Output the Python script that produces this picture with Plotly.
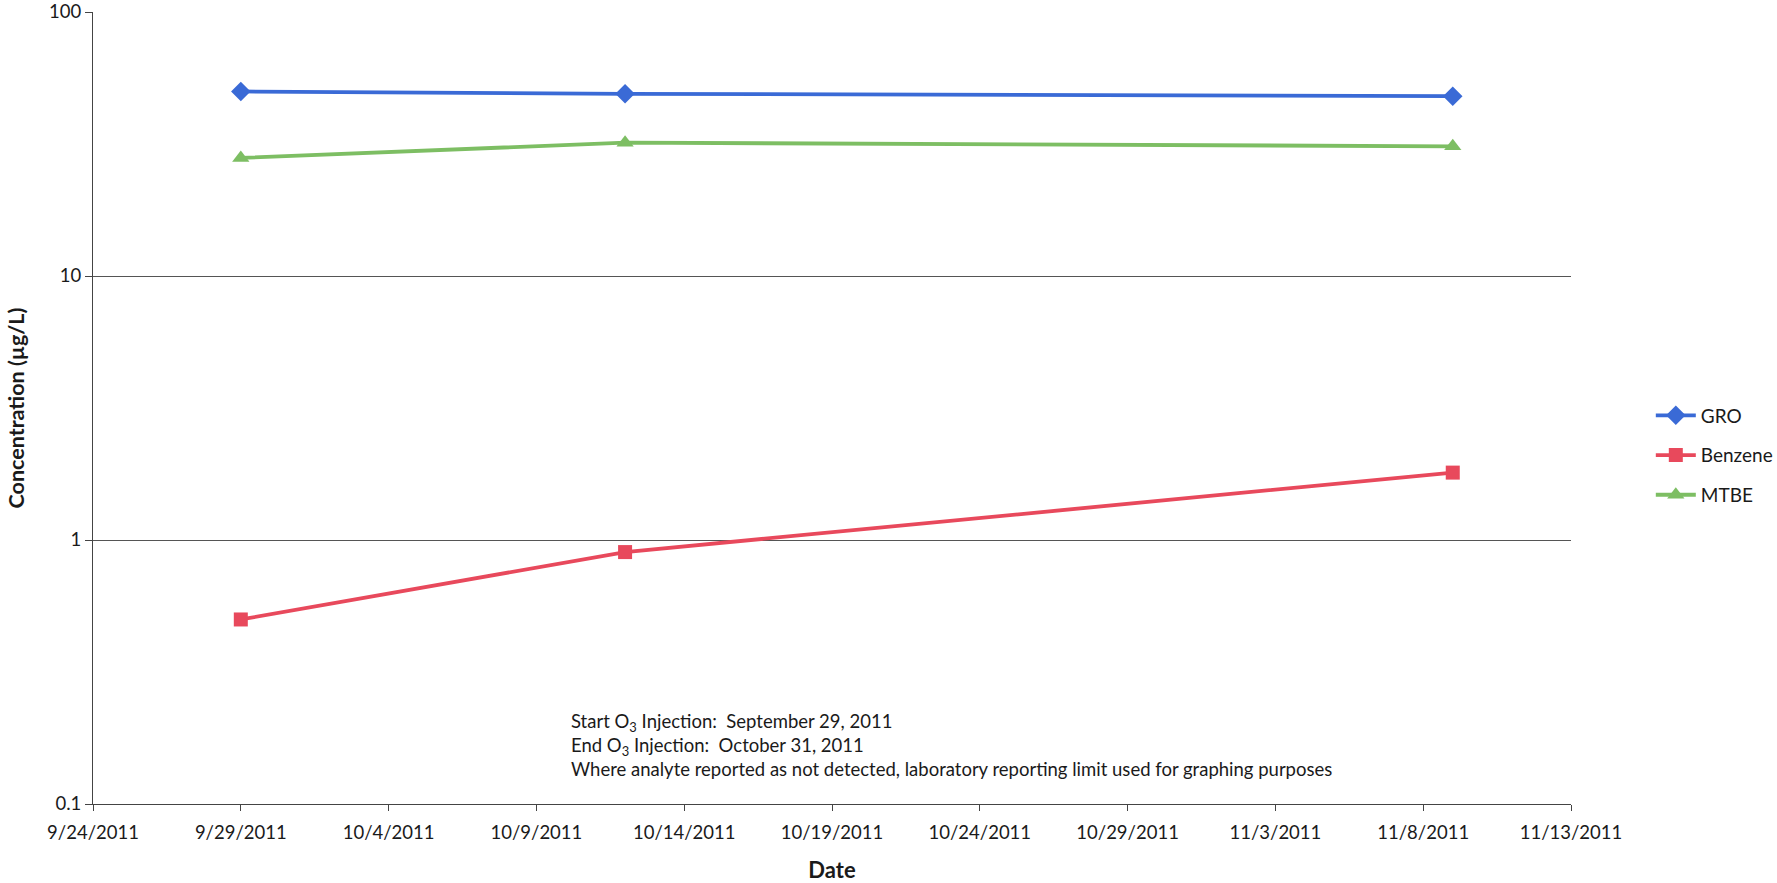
import plotly.graph_objects as go

# Sampling dates and measured concentrations (µg/L)
dates = ["2011-09-29", "2011-10-12", "2011-11-09"]
gro = [50, 49, 48]
benzene = [0.5, 0.9, 1.8]
mtbe = [28, 32, 31]

y_ticks = [0.1, 1, 10, 100]
y_tick_labels = ["0.1", "1", "10", "100"]

FONT = "Lato, 'Open Sans', sans-serif"
TEXT = "#1a1a1a"

fig = go.Figure()

series = [
    ("GRO", gro, "#3A6AD6", "diamond", 15),
    ("Benzene", benzene, "#E8495C", "square", 14),
    ("MTBE", mtbe, "#7DBE63", "triangle-up", 15),
]
for name, vals, color, symbol, size in series:
    fig.add_trace(go.Scatter(
        x=dates, y=vals, name=name, legendgroup=name, mode="lines+markers",
        line=dict(color=color, width=3.8),
        marker=dict(symbol=symbol, size=size, color=color,
                    line=dict(width=0)),
    ))

fig.add_annotation(
    xref="paper", yref="paper", x=0.322, y=0.074,
    xanchor="left", yanchor="middle", align="left", showarrow=False,
    text=("Start O<sub>3</sub> Injection:  September 29, 2011<br>"
          "End O<sub>3</sub> Injection:  October 31, 2011<br>"
          "Where analyte reported as not detected, laboratory reporting limit used for graphing purposes"),
    font=dict(family=FONT, size=18.5, color=TEXT),
)

fig.update_layout(
    width=1777, height=883,
    margin=dict(l=93, r=206, t=12, b=79, autoexpand=False),
    paper_bgcolor="white", plot_bgcolor="white",
    font=dict(family=FONT, size=18, color=TEXT),
    showlegend=True,
    legend=dict(
        x=1.054, y=0.44, xanchor="left", yanchor="middle",
        font=dict(family=FONT, size=19, color=TEXT),
        tracegroupgap=12, itemwidth=40,
        bgcolor="rgba(0,0,0,0)",
    ),
    xaxis=dict(
        type="date",
        range=["2011-09-24", "2011-11-13"],
        tick0="2011-09-24", dtick=5 * 86400000,
        tickformat="%-m/%-d/%Y",
        showgrid=False, zeroline=False, automargin=False,
        showline=True, linecolor="#444", linewidth=1,
        ticks="outside", ticklen=6, tickcolor="#444",
        ticklabelstandoff=6,
        tickfont=dict(family=FONT, size=18.5, color=TEXT),
        title=dict(text="<b>Date</b>", font=dict(family=FONT, size=22, color=TEXT), standoff=22),
    ),
    yaxis=dict(
        type="log", range=[-1, 2],
        tickvals=y_ticks, ticktext=y_tick_labels,
        showgrid=True, gridcolor="#555", gridwidth=1,
        zeroline=False, automargin=False,
        showline=True, linecolor="#444", linewidth=1,
        ticks="outside", ticklen=7, tickcolor="#444",
        tickfont=dict(family=FONT, size=18.5, color=TEXT),
        title=dict(text="<b>Concentration (µg/L)</b>", font=dict(family=FONT, size=21.5, color=TEXT), standoff=18),
    ),
)

fig.write_html("out.html")
